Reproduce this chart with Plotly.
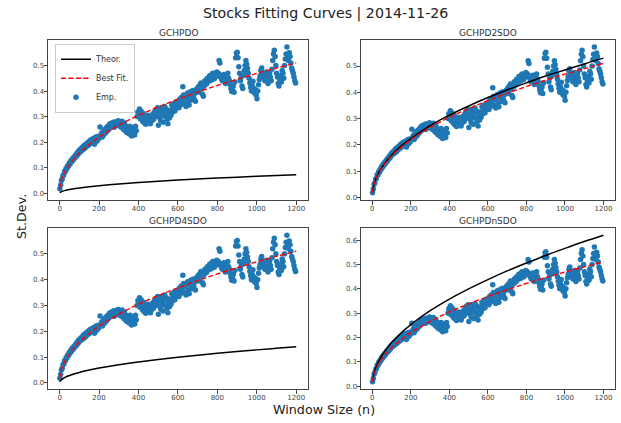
import plotly.graph_objects as go

# Empirical standard deviation of returns by window size
window_sizes = list(range(1, 1200, 4))
emp_std = [
    0.018, 0.032, 0.050, 0.056, 0.070, 0.072, 0.086, 0.085, 0.098, 0.096,
    0.108, 0.106, 0.119, 0.115, 0.127, 0.123, 0.135, 0.130, 0.142, 0.138,
    0.150, 0.145, 0.158, 0.152, 0.166,
    0.160, 0.172, 0.165, 0.178, 0.170, 0.185, 0.174, 0.190, 0.180, 0.195,
    0.186, 0.200, 0.190, 0.206, 0.196, 0.210, 0.198, 0.205, 0.215, 0.192,
    0.208, 0.220, 0.204, 0.222, 0.212,
    0.218, 0.259, 0.228, 0.236, 0.220, 0.242, 0.230, 0.250, 0.236, 0.256,
    0.244, 0.262, 0.250, 0.270, 0.256, 0.274, 0.260, 0.266, 0.278, 0.258,
    0.272, 0.280, 0.266, 0.276, 0.284,
    0.280, 0.262, 0.276, 0.258, 0.282, 0.266, 0.250, 0.275, 0.245, 0.262,
    0.238, 0.258, 0.248, 0.232, 0.262, 0.240, 0.224, 0.255, 0.236, 0.250,
    0.228, 0.262, 0.245, 0.300, 0.318,
    0.310, 0.330, 0.292, 0.322, 0.300, 0.282, 0.312, 0.276, 0.298, 0.270,
    0.290, 0.275, 0.305, 0.280, 0.300, 0.272, 0.295, 0.285, 0.310, 0.290,
    0.318, 0.300, 0.328, 0.310, 0.335,
    0.266, 0.298, 0.318, 0.285, 0.335, 0.305, 0.278, 0.320, 0.340, 0.300,
    0.330, 0.290, 0.272, 0.312, 0.295, 0.325, 0.305, 0.345, 0.318, 0.335,
    0.352, 0.322, 0.342, 0.358, 0.336,
    0.352, 0.335, 0.368, 0.345, 0.375, 0.360, 0.417, 0.385, 0.350, 0.372,
    0.340, 0.380, 0.392, 0.358, 0.345, 0.378, 0.398, 0.365, 0.385, 0.402,
    0.372, 0.390, 0.360, 0.395, 0.410,
    0.405, 0.418, 0.395, 0.425, 0.432, 0.412, 0.388, 0.380, 0.420, 0.440,
    0.435, 0.428, 0.450, 0.445, 0.438, 0.460, 0.455, 0.442, 0.465, 0.470,
    0.452, 0.448, 0.462, 0.468, 0.475,
    0.458, 0.470, 0.520, 0.510, 0.462, 0.448, 0.440, 0.455, 0.465, 0.438,
    0.430, 0.445, 0.458, 0.470, 0.450, 0.440, 0.425, 0.410, 0.398, 0.405,
    0.420, 0.395, 0.435, 0.530, 0.548,
    0.552, 0.530, 0.495, 0.470, 0.440, 0.455, 0.420, 0.410, 0.462, 0.480,
    0.500, 0.520, 0.505, 0.488, 0.470, 0.450, 0.432, 0.415, 0.400, 0.420,
    0.438, 0.410, 0.392, 0.405, 0.385,
    0.370, 0.400, 0.425, 0.445, 0.460, 0.480, 0.490, 0.470, 0.455, 0.465,
    0.440, 0.450, 0.475, 0.460, 0.430, 0.445, 0.470, 0.455, 0.440, 0.485,
    0.520, 0.545, 0.560, 0.535, 0.500,
    0.470, 0.455, 0.430, 0.420, 0.445, 0.460, 0.435, 0.480, 0.470, 0.450,
    0.500, 0.525, 0.545, 0.572, 0.540, 0.520, 0.550, 0.535, 0.510, 0.490,
    0.480, 0.470, 0.455, 0.440, 0.432,
]

# Window sizes at which the fitted / theoretical curves are sampled
curve_n = [1, 5, 10, 25, 50, 100, 150, 200, 300, 400, 500, 600,
           700, 800, 900, 1000, 1100, 1200]
best_fit = [0.018, 0.038, 0.053, 0.081, 0.113, 0.158, 0.191, 0.220, 0.266,
            0.305, 0.338, 0.368, 0.396, 0.422, 0.446, 0.469, 0.490, 0.510]
theor_gchpdo = [0.0021, 0.0047, 0.0067, 0.0105, 0.0149, 0.0211, 0.0258,
                0.0298, 0.0365, 0.0421, 0.0471, 0.0516, 0.0558, 0.0596,
                0.0632, 0.0666, 0.0699, 0.0730]
theor_gchpd2sdo = [0.0177, 0.038, 0.053, 0.083, 0.115, 0.161, 0.196, 0.224,
                   0.273, 0.313, 0.348, 0.380, 0.409, 0.436, 0.462, 0.485,
                   0.508, 0.530]
theor_gchpd4sdo = [0.004, 0.009, 0.0128, 0.0202, 0.0286, 0.0404, 0.0495,
                   0.0572, 0.070, 0.0808, 0.0904, 0.099, 0.1069, 0.1143,
                   0.1212, 0.1278, 0.134, 0.140]
theor_gchpdnsdo = [0.0179, 0.040, 0.0566, 0.0895, 0.1266, 0.179, 0.219,
                   0.253, 0.310, 0.358, 0.400, 0.438, 0.4735, 0.506, 0.537,
                   0.566, 0.594, 0.620]

panel_titles = ["GCHPDO", "GCHPD2SDO", "GCHPD4SDO", "GCHPDnSDO"]
theor_curves = [theor_gchpdo, theor_gchpd2sdo, theor_gchpd4sdo, theor_gchpdnsdo]
x_ticks = [0, 200, 400, 600, 800, 1000, 1200]
y_ticks = [0.0, 0.1, 0.2, 0.3, 0.4, 0.5, 0.6]

W, H = 621, 423
FONT = "DejaVu Sans"

# Axes boxes in pixels: (left, right, top, bottom)
boxes = [(48, 308, 40, 201), (361, 615, 40, 201),
         (48, 308, 229, 391), (361, 615, 229, 391)]

fig = go.Figure()


def pad_range(values, frac=0.05):
    lo, hi = min(values), max(values)
    d = (hi - lo) * frac
    return [lo - d, hi + d]


for i, (title, theor) in enumerate(zip(panel_titles, theor_curves)):
    suffix = "" if i == 0 else str(i + 1)
    xa, ya = "x" + suffix, "y" + suffix
    first = i == 0
    fig.add_trace(go.Scatter(
        x=window_sizes, y=emp_std, mode="markers", name="Emp.",
        marker=dict(color="#1f77b4", size=5.5, line=dict(width=0)),
        xaxis=xa, yaxis=ya, showlegend=first, legendrank=3))
    fig.add_trace(go.Scatter(
        x=curve_n, y=theor, mode="lines", name="Theor.",
        line=dict(color="black", width=1.5, shape="spline"),
        xaxis=xa, yaxis=ya, showlegend=first, legendrank=1))
    fig.add_trace(go.Scatter(
        x=curve_n, y=best_fit, mode="lines", name="Best Fit.",
        line=dict(color="#ff0000", width=1.4, dash="5px,2.5px", shape="spline"),
        xaxis=xa, yaxis=ya, showlegend=first, legendrank=2))

    l, r, t, b = boxes[i]
    xr = pad_range(window_sizes + curve_n)
    yr = pad_range(emp_std + theor + best_fit)
    axis_common = dict(
        showline=True, linecolor="#444444", linewidth=1, mirror=True,
        ticks="outside", ticklen=3.5, tickcolor="#444444", showgrid=False,
        zeroline=False, ticklabelstandoff=-2,
        tickfont=dict(family=FONT, size=7, color="#444444"))
    fig.layout["xaxis" + suffix] = dict(
        domain=[l / W, r / W], anchor=ya, range=xr, tickvals=x_ticks,
        **axis_common)
    fig.layout["yaxis" + suffix] = dict(
        domain=[1 - b / H, 1 - t / H], anchor=xa, range=yr,
        tickvals=[v for v in y_ticks if v <= yr[1] - 0.01], tickformat=".1f",
        **axis_common)
    fig.add_annotation(
        text=title, xref="paper", yref="paper", x=(l + r) / 2 / W,
        y=1 - (t - 7) / H, xanchor="center", yanchor="middle",
        showarrow=False, font=dict(family=FONT, size=9, color="#333333"))

fig.add_annotation(
    text="Stocks Fitting Curves | 2014-11-26", xref="paper", yref="paper",
    x=325 / W, y=1 - 14 / H, xanchor="center", yanchor="middle",
    showarrow=False, font=dict(family=FONT, size=14.2, color="#222222"))
fig.add_annotation(
    text="St.Dev.", xref="paper", yref="paper", x=22 / W, y=1 - 218 / H,
    xanchor="center", yanchor="middle", textangle=-90, showarrow=False,
    font=dict(family=FONT, size=12.7, color="#222222"))
fig.add_annotation(
    text="Window Size (n)", xref="paper", yref="paper", x=324 / W,
    y=1 - 411 / H, xanchor="center", yanchor="middle", showarrow=False,
    font=dict(family=FONT, size=12.7, color="#222222"))

fig.update_layout(
    width=W, height=H, margin=dict(l=0, r=0, t=0, b=0),
    paper_bgcolor="white", plot_bgcolor="white",
    legend=dict(x=55 / W, y=1 - 44 / H, xanchor="left", yanchor="top",
                bgcolor="white", bordercolor="#cccccc", borderwidth=1,
                font=dict(family=FONT, size=8, color="#333333"),
                itemwidth=30, tracegroupgap=0),
)

fig.write_html("out.html")
